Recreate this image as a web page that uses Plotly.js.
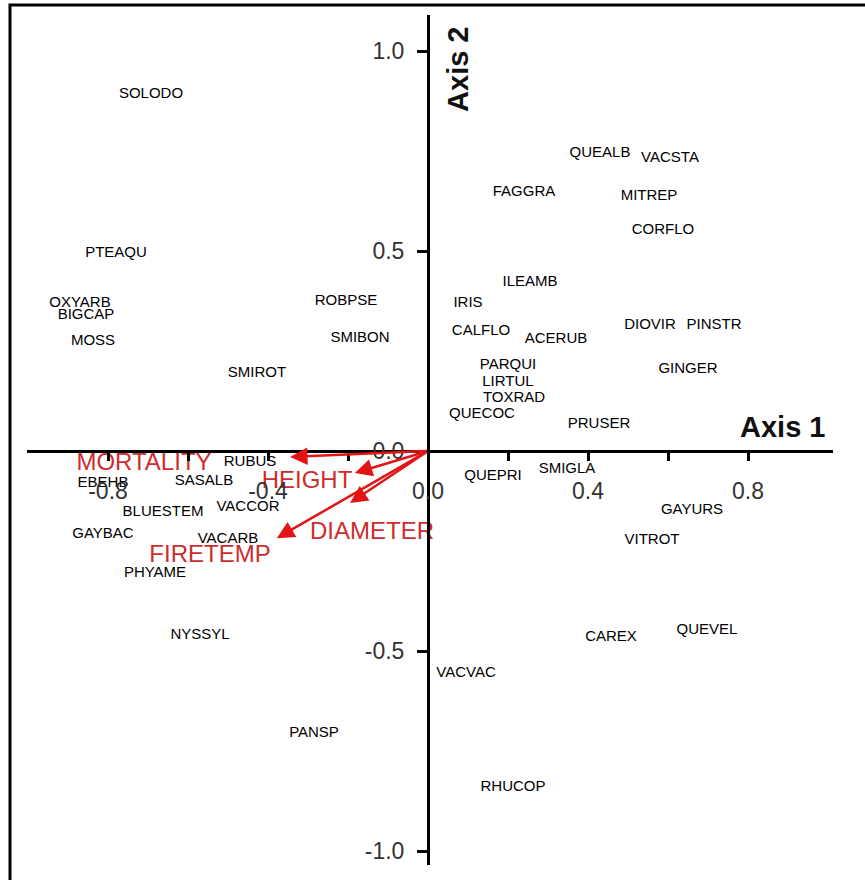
<!DOCTYPE html>
<html><head><meta charset="utf-8">
<script src="https://cdn.plot.ly/plotly-3.0.1.min.js"></script>
<style>html,body{margin:0;padding:0;background:#fff}</style>
</head><body><div id="chart" style="width:865px;height:880px"></div>
<script>
// Species scores (Axis 1, Axis 2)
const speciesNames = ['SOLODO','PTEAQU','OXYARB','BIGCAP','MOSS','ROBPSE','SMIBON','SMIROT','RUBUS','EBEHB','SASALB','BLUESTEM','VACCOR','GAYBAC','VACARB','PHYAME','NYSSYL','PANSP','VACVAC','RHUCOP','CAREX','QUEVEL','VITROT','GAYURS','QUEPRI','SMIGLA','PRUSER','QUECOC','TOXRAD','LIRTUL','PARQUI','CALFLO','ACERUB','IRIS','ILEAMB','DIOVIR','PINSTR','GINGER','CORFLO','MITREP','FAGGRA','QUEALB','VACSTA'];
const speciesX = [-0.6925,-0.78,-0.87,-0.855,-0.8375,-0.205,-0.17,-0.4275,-0.445,-0.8125,-0.56,-0.6625,-0.45,-0.8125,-0.5,-0.6825,-0.57,-0.285,0.095,0.2125,0.4575,0.6975,0.56,0.66,0.1625,0.3475,0.4275,0.135,0.215,0.2,0.2,0.1325,0.32,0.1,0.255,0.555,0.715,0.65,0.5875,0.5525,0.24,0.43,0.605];
const speciesY = [0.8925,0.495,0.37,0.34,0.275,0.375,0.2825,0.195,-0.0275,-0.08,-0.075,-0.1525,-0.14,-0.2075,-0.22,-0.305,-0.46,-0.705,-0.555,-0.84,-0.465,-0.4475,-0.2225,-0.1475,-0.0625,-0.045,0.0675,0.0925,0.1325,0.1725,0.215,0.30,0.28,0.37,0.4225,0.315,0.315,0.205,0.5525,0.6375,0.6475,0.745,0.7325];

// Environmental vectors (arrow tips) and their label positions
const vectorNames = ['MORTALITY','HEIGHT','DIAMETER','FIRETEMP'];
const vectorX = [-0.345,-0.183,-0.195,-0.378];
const vectorY = [-0.015,-0.055,-0.13,-0.218];
const vectorLabelX = [-0.71,-0.3025,-0.14,-0.545];
const vectorLabelY = [-0.033,-0.0775,-0.205,-0.2625];

// Ticks
const xTickVals = [-0.8,-0.4,0.0,0.4,0.8];
const xTickText = ['-0.8','-0.4','0.0','0.4','0.8'];
const xMinorVals = [-0.6,-0.2,0.2,0.6];
const yTickVals = [-1.0,-0.5,0.0,0.5,1.0];
const yTickText = ['-1.0','-0.5','0.0','0.5','1.0'];

const RED = 'rgb(228,20,20)';
const LABELRED = 'rgb(205,45,45)';

const traces = [
  {
    type:'scatter', mode:'text', x:speciesX, y:speciesY, text:speciesNames,
    textposition:'middle center', cliponaxis:false,
    textfont:{family:'Liberation Sans, Arial, sans-serif', size:15, color:'#000'},
    hoverinfo:'skip', showlegend:false
  },
  {
    type:'scatter', mode:'text', x:vectorLabelX, y:vectorLabelY, text:vectorNames,
    textposition:'middle center', cliponaxis:false,
    textfont:{family:'Liberation Sans, Arial, sans-serif', size:24, color:LABELRED},
    hoverinfo:'skip', showlegend:false
  }
];

const annotations = vectorNames.map((n,i)=>({
  x:vectorX[i], y:vectorY[i], xref:'x', yref:'y',
  ax:0, ay:0, axref:'x', ayref:'y',
  text:'', showarrow:true, arrowhead:2, arrowsize:1.4, arrowwidth:2.5, arrowcolor:RED
}));
annotations.push({
  text:'<b>Axis 1</b>', xref:'paper', yref:'paper', x:0.9926, y:0.515,
  xanchor:'right', yanchor:'middle', showarrow:false,
  font:{family:'Liberation Sans, Arial, sans-serif', size:29, color:'#111'}
});
annotations.push({
  text:'<b>Axis 2</b>', xref:'paper', yref:'paper', x:0.5347, y:0.9365,
  xanchor:'center', yanchor:'middle', textangle:-90, showarrow:false,
  font:{family:'Liberation Sans, Arial, sans-serif', size:29, color:'#111'}
});

const tickFont = {family:'Liberation Sans, Arial, sans-serif', size:23, color:'#333'};

const layout = {
  width:865, height:880,
  margin:{l:27, r:32, t:15, b:15, pad:0},
  paper_bgcolor:'#fff', plot_bgcolor:'#fff',
  showlegend:false, hovermode:false,
  xaxis:{
    range:[-1.0025,1.0125], anchor:'free', position:0.487,
    showgrid:false, zeroline:false, showline:true, linecolor:'#000', linewidth:3,
    ticks:'outside', ticklen:8, tickwidth:3, tickcolor:'#000',
    tickmode:'array', tickvals:xTickVals, ticktext:xTickText,
    minor:{tickvals:xMinorVals, ticks:'outside', ticklen:8, tickwidth:3, tickcolor:'#000', showgrid:false},
    tickfont:tickFont, ticklabelstandoff:10
  },
  yaxis:{
    range:[-1.035,1.09], anchor:'free', position:0.4975,
    showgrid:false, zeroline:false, showline:true, linecolor:'#000', linewidth:3,
    ticks:'outside', ticklen:10, tickwidth:3, tickcolor:'#000',
    tickmode:'array', tickvals:yTickVals, ticktext:yTickText,
    tickfont:tickFont, ticklabelstandoff:8
  },
  annotations:annotations,
  shapes:[{
    type:'rect', xref:'paper', yref:'paper', x0:-0.0211, x1:1.2, y0:-0.2, y1:1.0118,
    line:{color:'#000', width:3}, fillcolor:'rgba(0,0,0,0)', layer:'above'
  }]
};

Plotly.newPlot('chart', traces, layout, {displayModeBar:false, staticPlot:true});
</script>
</body></html>
